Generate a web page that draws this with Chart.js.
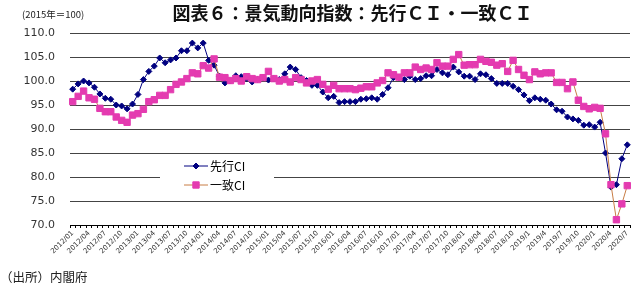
<!DOCTYPE html>
<html><head><meta charset="utf-8">
<script src="https://cdn.jsdelivr.net/npm/chart.js@4.4.0/dist/chart.umd.min.js"></script>
<style>
html,body{margin:0;padding:0;background:#fff;}
#wrap{position:relative;width:640px;height:289px;overflow:hidden;background:#fff;}
#c{position:absolute;left:0;top:0;}
.t{position:absolute;white-space:nowrap;font-family:'Noto Sans CJK JP';color:#111;}
#title{left:0;width:705px;text-align:center;top:1px;font-size:18px;font-weight:bold;line-height:22px;}
#unit{left:22px;top:8px;font-size:9.5px;line-height:13px;color:#222;}
#src{left:0px;top:268px;font-size:12.5px;line-height:18px;color:#222;}
</style></head>
<body>
<div id="wrap">
<canvas id="c" width="640" height="289"></canvas>
<div class="t" id="title">図表６：景気動向指数：先行ＣＩ・一致ＣＩ</div>
<div class="t" id="unit">(2015年＝100)</div>
<div class="t" id="src">（出所）内閣府</div>
</div>
<script>
const categories = [
 '2012/01','2012/02','2012/03','2012/04','2012/05','2012/06','2012/07','2012/08','2012/09','2012/10','2012/11','2012/12',
 '2013/01','2013/02','2013/03','2013/04','2013/05','2013/06','2013/07','2013/08','2013/09','2013/10','2013/11','2013/12',
 '2014/01','2014/02','2014/03','2014/04','2014/05','2014/06','2014/07','2014/08','2014/09','2014/10','2014/11','2014/12',
 '2015/01','2015/02','2015/03','2015/04','2015/05','2015/06','2015/07','2015/08','2015/09','2015/10','2015/11','2015/12',
 '2016/01','2016/02','2016/03','2016/04','2016/05','2016/06','2016/07','2016/08','2016/09','2016/10','2016/11','2016/12',
 '2017/01','2017/02','2017/03','2017/04','2017/05','2017/06','2017/07','2017/08','2017/09','2017/10','2017/11','2017/12',
 '2018/01','2018/02','2018/03','2018/04','2018/05','2018/06','2018/07','2018/08','2018/09','2018/10','2018/11','2018/12',
 '2019/1','2019/2','2019/3','2019/4','2019/5','2019/6','2019/7','2019/8','2019/9','2019/10','2019/11','2019/12',
 '2020/1','2020/2','2020/3','2020/4','2020/5','2020/6','2020/7'
];
const leadingCI = [
 98.3, 99.4, 100.0, 99.6, 98.7, 97.3, 96.4, 96.2, 95.0, 94.8, 94.2, 95.2,
 97.2, 100.3, 102.0, 103.1, 104.8, 103.8, 104.4, 104.8, 106.3, 106.3, 107.9, 106.9,
 107.9, 104.3, 103.3, 101.0, 99.6, 100.0, 101.1, 100.9, 100.5, 99.8, 100.3, 100.7,
 100.2, 100.5, 100.3, 101.5, 102.9, 102.4, 100.7, 100.1, 99.1, 99.1, 97.7, 96.5,
 96.8, 95.5, 95.7, 95.7, 95.7, 96.2, 96.3, 96.5, 96.2, 97.2, 98.6, 100.7,
 100.7, 100.3, 101.0, 100.3, 100.5, 101.1, 101.1, 102.4, 101.7, 101.3, 102.9, 101.9,
 101.0, 101.0, 100.3, 101.5, 101.3, 100.5, 99.5, 99.5, 99.5, 98.9, 98.2, 97.1,
 95.9, 96.5, 96.2, 96.0, 95.2, 94.0, 93.7, 92.5, 92.1, 91.8, 90.8, 90.9,
 90.4, 91.4, 85.0, 77.9, 78.4, 83.8, 86.7
];
const coincidentCI = [
 95.7, 96.8, 97.9, 96.5, 96.2, 94.3, 93.6, 93.6, 92.5, 91.8, 91.4, 92.9,
 93.2, 94.1, 95.7, 96.1, 97.0, 97.0, 98.2, 99.3, 99.8, 100.5, 101.7, 101.5,
 103.2, 102.7, 104.6, 100.8, 100.7, 100.1, 100.5, 100.0, 100.9, 100.5, 100.3, 100.7,
 102.0, 100.5, 100.0, 100.3, 99.8, 100.7, 100.3, 99.6, 100.0, 100.3, 99.3, 98.3,
 99.1, 98.4, 98.4, 98.4, 98.2, 98.5, 98.8, 98.8, 99.6, 100.1, 101.7, 101.3,
 100.8, 101.7, 101.7, 102.9, 102.4, 102.7, 102.4, 103.8, 103.1, 103.1, 104.5, 105.5,
 103.3, 103.4, 103.4, 104.5, 104.1, 103.9, 103.3, 103.6, 102.0, 104.3, 102.4, 101.2,
 100.3, 101.9, 101.5, 101.7, 101.7, 99.7, 99.7, 98.4, 99.8, 96.0, 94.7, 94.2,
 94.5, 94.3, 89.0, 78.4, 71.1, 74.4, 78.2
];
const seriesNames = ['先行CI', '一致CI'];
const yMin = 70, yMax = 110, yStep = 5;
const labelEvery = 3;

const NAVY = '#000080';
const BROWN = '#c87d45';
const PINK = '#e43bb0';

function swatch(lineColor, fill, style, r) {
  const c = document.createElement('canvas');
  c.width = 24; c.height = 10;
  const g = c.getContext('2d');
  g.strokeStyle = lineColor; g.lineWidth = 1;
  g.beginPath(); g.moveTo(0, 5); g.lineTo(24, 5); g.stroke();
  g.fillStyle = fill; g.strokeStyle = fill; g.lineWidth = 1;
  if (Chart.helpers && Chart.helpers.drawPoint) {
    Chart.helpers.drawPoint(g, {pointStyle: style, radius: r, borderWidth: 1, rotation: 0}, 12, 5);
  } else {
    g.fillRect(12 - r * 0.7, 5 - r * 0.7, r * 1.4, r * 1.4);
  }
  return c;
}
const swatches = [swatch(NAVY, NAVY, 'rectRot', 3), swatch(BROWN, PINK, 'rect', 4.5)];

const legendPlugin = {
  id: 'legendPlace',
  afterLayout(chart) {
    const lg = chart.legend;
    if (!lg) return;
    if (!lg._realDraw) { lg._realDraw = lg.draw; lg.draw = function () {}; }
    lg.left = 181; lg.top = 153; lg.right = 181 + 100; lg.bottom = 153 + 100;
  },
  beforeDatasetsDraw(chart) {
    const ctx = chart.ctx;
    ctx.save();
    ctx.fillStyle = '#ffffff';
    ctx.fillRect(160, 156, 114, 39);
    ctx.restore();
    if (chart.legend && chart.legend._realDraw) chart.legend._realDraw.call(chart.legend);
  }
};

new Chart(document.getElementById('c'), {
  type: 'line',
  data: {
    labels: categories,
    datasets: [
      {
        label: seriesNames[0], data: leadingCI, order: 1,
        borderColor: NAVY, borderWidth: 1, backgroundColor: NAVY,
        pointStyle: 'rectRot', pointRadius: 3, pointBorderWidth: 1,
        pointBackgroundColor: NAVY, pointBorderColor: NAVY, tension: 0
      },
      {
        label: seriesNames[1], data: coincidentCI, order: 0,
        borderColor: BROWN, borderWidth: 1, backgroundColor: PINK,
        pointStyle: 'rect', pointRadius: 4.5, pointBorderWidth: 1,
        pointBackgroundColor: PINK, pointBorderColor: PINK, tension: 0
      }
    ]
  },
  options: {
    responsive: false,
    animation: false,
    layout: { padding: { top: 33, right: 10, left: 0, bottom: 0 } },
    plugins: {
      title: { display: false },
      tooltip: { enabled: false },
      legend: {
        display: true,
        position: 'chartArea',
        align: 'start',
        labels: {
          usePointStyle: true,
          pointStyleWidth: 16,
          boxHeight: 10,
          padding: 7,
          color: '#111',
          font: { family: 'Noto Sans CJK JP', size: 12 },
          generateLabels(chart) {
            return chart.data.datasets.map((ds, i) => ({
              text: ds.label, pointStyle: swatches[i], fillStyle: PINK,
              strokeStyle: PINK, lineWidth: 0, hidden: false, datasetIndex: i
            }));
          }
        }
      }
    },
    scales: {
      x: {
        type: 'category',
        offset: true,
        grid: { drawOnChartArea: false, drawTicks: true, tickLength: 3, color: '#000', offset: true },
        border: { display: true, color: '#000', width: 1 },
        ticks: {
          autoSkip: false, maxRotation: 45, minRotation: 45, padding: 1,
          color: '#333', font: { family: 'DejaVu Sans', size: 7 },
          callback: (v, i) => (i % labelEvery === 0 ? categories[i] : '')
        },
        afterFit: (s) => { s.height = 64; }
      },
      y: {
        min: yMin, max: yMax,
        grid: { drawTicks: false, color: '#444', lineWidth: 1 },
        border: { display: false },
        ticks: {
          stepSize: yStep, padding: 15, color: '#333',
          font: { family: 'DejaVu Sans', size: 11 },
          callback: (v) => Number(v).toFixed(1)
        },
        afterFit: (s) => { s.width = 70; }
      }
    }
  },
  plugins: [legendPlugin]
});
</script>
</body></html>
